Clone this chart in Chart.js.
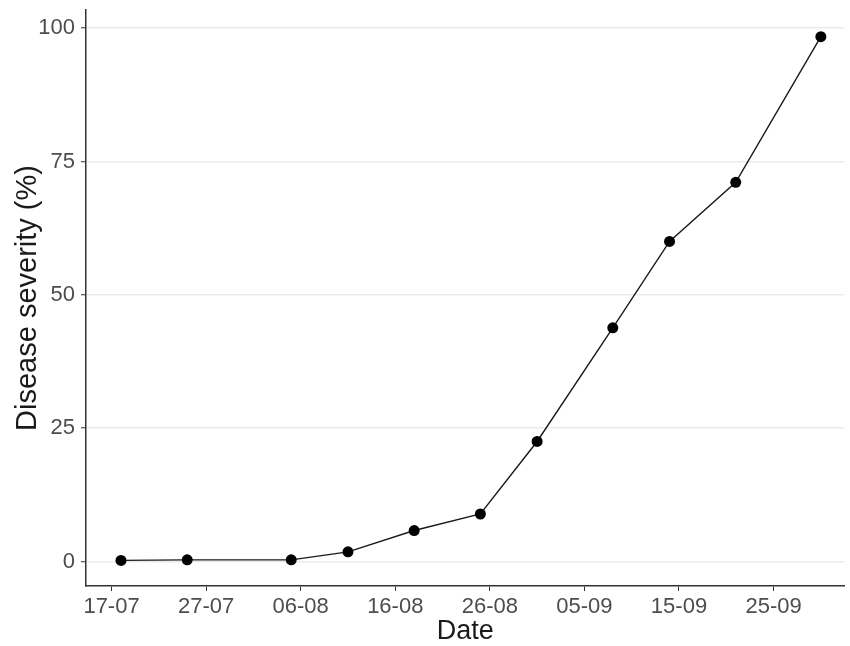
<!DOCTYPE html>
<html>
<head>
<meta charset="utf-8">
<script src="https://cdn.jsdelivr.net/npm/chart.js@4.4.1/dist/chart.umd.min.js"></script>
<style>
  body { margin: 0; background: #fff; }
  #wrap { width: 850px; height: 646px; }
</style>
</head>
<body>
<div id="wrap"><canvas id="myChart"></canvas></div>
<script>
// sampling dates (dd-mm) and disease severity (%)
var dates = ['18-07', '25-07', '05-08', '11-08', '18-08', '25-08', '31-08', '08-09', '14-09', '21-09', '30-09'];
var severity = [0.2, 0.3, 0.3, 1.8, 5.8, 8.9, 22.5, 43.8, 60.0, 71.1, 98.4];
var xTickLabels = ['17-07', '27-07', '06-08', '16-08', '26-08', '05-09', '15-09', '25-09'];
var yTicks = [0, 25, 50, 75, 100];

var YEAR = 2020;
function toDay(s) {
    var p = s.split('-');
    return Date.UTC(YEAR, parseInt(p[1], 10) - 1, parseInt(p[0], 10)) / 86400000;
}
var day0 = toDay(xTickLabels[0]);
var points = dates.map(function (d, i) {
    return { x: toDay(d) - day0, y: severity[i] };
});
var xTickValues = xTickLabels.map(function (d) { return toDay(d) - day0; });

function dayLabel(v) {
    var dt = new Date((day0 + v) * 86400000);
    var dd = String(dt.getUTCDate()).padStart(2, '0');
    var mm = String(dt.getUTCMonth() + 1).padStart(2, '0');
    return dd + '-' + mm;
}

var ctx = document.getElementById('myChart').getContext('2d');
var myChart = new Chart(ctx, {
    type: 'line',
    data: {
        datasets: [{
            label: 'Disease severity',
            data: points,
            borderColor: '#1a1a1a',
            borderWidth: 1.4,
            backgroundColor: '#000',
            pointBackgroundColor: '#000',
            pointBorderColor: '#000',
            pointRadius: 5.5,
            pointBorderWidth: 0,
            tension: 0,
            fill: false
        }]
    },
    options: {
        responsive: true,
        maintainAspectRatio: false,
        animation: false,
        layout: { padding: { top: 10, right: 2, left: 0, bottom: 0 } },
        plugins: {
            legend: { display: false },
            tooltip: { enabled: false }
        },
        scales: {
            x: {
                type: 'linear',
                min: -2.7,
                max: 77.5,
                afterBuildTicks: function (scale) {
                    scale.ticks = xTickValues.map(function (v) { return { value: v }; });
                },
                afterFit: function (scale) {
                    scale.height = 60;
                    scale.paddingLeft = 0;
                    scale.paddingRight = 0;
                },
                grid: {
                    drawOnChartArea: false,
                    drawTicks: true,
                    tickLength: 5,
                    tickColor: '#333',
                    tickWidth: 1
                },
                border: { display: true, color: '#333', width: 1.5 },
                ticks: {
                    autoSkip: false,
                    maxRotation: 0,
                    padding: 3,
                    color: '#4d4d4d',
                    font: { family: 'Liberation Sans, Arial, sans-serif', size: 22 },
                    callback: function (v) { return dayLabel(v); }
                },
                title: {
                    display: true,
                    text: 'Date',
                    color: '#1a1a1a',
                    padding: { top: 0, bottom: 1 },
                    font: { family: 'Liberation Sans, Arial, sans-serif', size: 27, lineHeight: 1 }
                }
            },
            y: {
                min: -4.6,
                max: 103.4,
                afterBuildTicks: function (scale) {
                    scale.ticks = yTicks.map(function (v) { return { value: v }; });
                },
                afterFit: function (scale) {
                    scale.width = 86;
                    scale.paddingTop = 0;
                    scale.paddingBottom = 0;
                },
                grid: {
                    color: '#ebebeb',
                    lineWidth: 1.5,
                    drawTicks: true,
                    tickLength: 5,
                    tickColor: '#333',
                    tickWidth: 1
                },
                border: { display: true, color: '#333', width: 1.5 },
                ticks: {
                    padding: 6,
                    color: '#4d4d4d',
                    font: { family: 'Liberation Sans, Arial, sans-serif', size: 22 }
                },
                title: {
                    display: true,
                    text: 'Disease severity (%)',
                    color: '#1a1a1a',
                    padding: { top: 11, bottom: 0 },
                    font: { family: 'Liberation Sans, Arial, sans-serif', size: 29 }
                }
            }
        }
    }
});
</script>
</body>
</html>
